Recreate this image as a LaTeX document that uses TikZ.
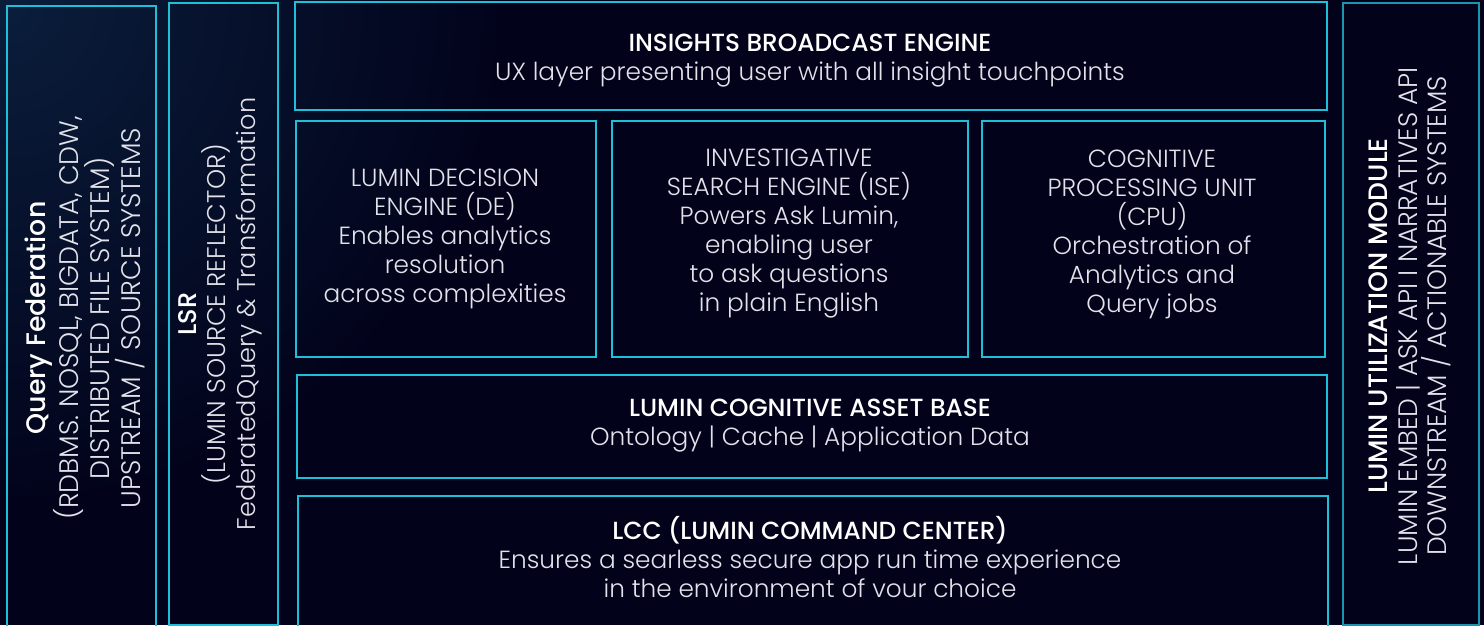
\documentclass[tikz,border=0pt]{standalone}
\usepackage{fontspec}
\setmainfont{Poppins}[UprightFont=* Light, BoldFont=* Medium]
\definecolor{bgdark}{HTML}{02021A}
\definecolor{bglight}{HTML}{0A1E3C}
\definecolor{edge}{HTML}{1EC0D8}
\definecolor{edgedim}{HTML}{1B95AE}
\definecolor{txt}{HTML}{E2E2EA}
\begin{document}
\begin{tikzpicture}[x=1pt,y=-1pt,
  box/.style={draw=edge,line width=1.6pt,anchor=north west,inner sep=0pt},
  lbl/.style={text=txt,align=center,font=\fontsize{24.8}{29}\selectfont,inner sep=0pt},
  vlbl/.style={lbl,rotate=90,font=\fontsize{#1}{29.5}\selectfont}]
\useasboundingbox (0,0) rectangle (1484,625);
\clip (0,0) rectangle (1484,625);
\fill[bgdark] (0,0) rectangle (1484,625);
\shade[inner color=bglight,outer color=bgdark] (0,0) circle (520);
% boxes
\node[box,minimum width=149,minimum height=660] (qfBox) at (6,5) {};
\node[box,minimum width=109,minimum height=622] (lsrBox) at (168,2) {};
\node[box,draw=edgedim,minimum width=136,minimum height=622] (lumBox) at (1342,2) {};
\node[box,minimum width=1032,minimum height=108] (ibeBox) at (294,1) {};
\node[box,minimum width=300,minimum height=236] (deBox) at (295,120) {};
\node[box,minimum width=356,minimum height=236] (iseBox) at (611,120) {};
\node[box,minimum width=343,minimum height=236] (cpuBox) at (981,120) {};
\node[box,minimum width=1030,minimum height=103] (labBox) at (296,374) {};
\node[box,minimum width=1030,minimum height=170] (lccBox) at (297,495) {};
% texts
\node[vlbl=26.8] (qf) at (85,318) {{\color{white}\bfseries Query Federation}\\(RDBMS. NOSQL, BIGDATA, CDW,\\DISTRIBUTED FILE SYSTEM)\\UPSTREAM / SOURCE SYSTEMS};
\node[vlbl=25.6] (lsr) at (220,314) {{\color{white}\bfseries LSR}\\(LUMIN SOURCE REFLECTOR)\\FederatedQuery \& Transformation};
\node[vlbl=26.6] (lum) at (1410,316) {{\color{white}\bfseries LUMIN UTILIZATION MODULE}\\LUMIN EMBED | ASK API I NARRATIVES API\\DOWNSTREAM / ACTIONABLE SYSTEMS};
\node[lbl] (ibe) at (810,61) {{\color{white}\bfseries INSIGHTS BROADCAST ENGINE}\\UX layer presenting user with all insight touchpoints};
\node[lbl] (de) at (445,239) {LUMIN DECISION\\ENGINE (DE)\\Enables analytics\\resolution\\across complexities};
\node[lbl] (ise) at (789,234) {INVESTIGATIVE\\SEARCH ENGINE (ISE)\\Powers Ask Lumin,\\enabling user\\to ask questions\\in plain English};
\node[lbl] (cpu) at (1152,234) {COGNITIVE\\PROCESSING UNIT\\(CPU)\\Orchestration of\\Analytics and\\Query jobs};
\node[lbl] (lab) at (810,426) {{\color{white}\bfseries LUMIN COGNITIVE ASSET BASE}\\Ontology | Cache | Application Data};
\node[lbl] (lcc) at (810,557) {{\color{white}\bfseries LCC (LUMIN COMMAND CENTER)}\\Ensures a searless secure app run time experience\\in the environment of vour choice};
\end{tikzpicture}
\end{document}
